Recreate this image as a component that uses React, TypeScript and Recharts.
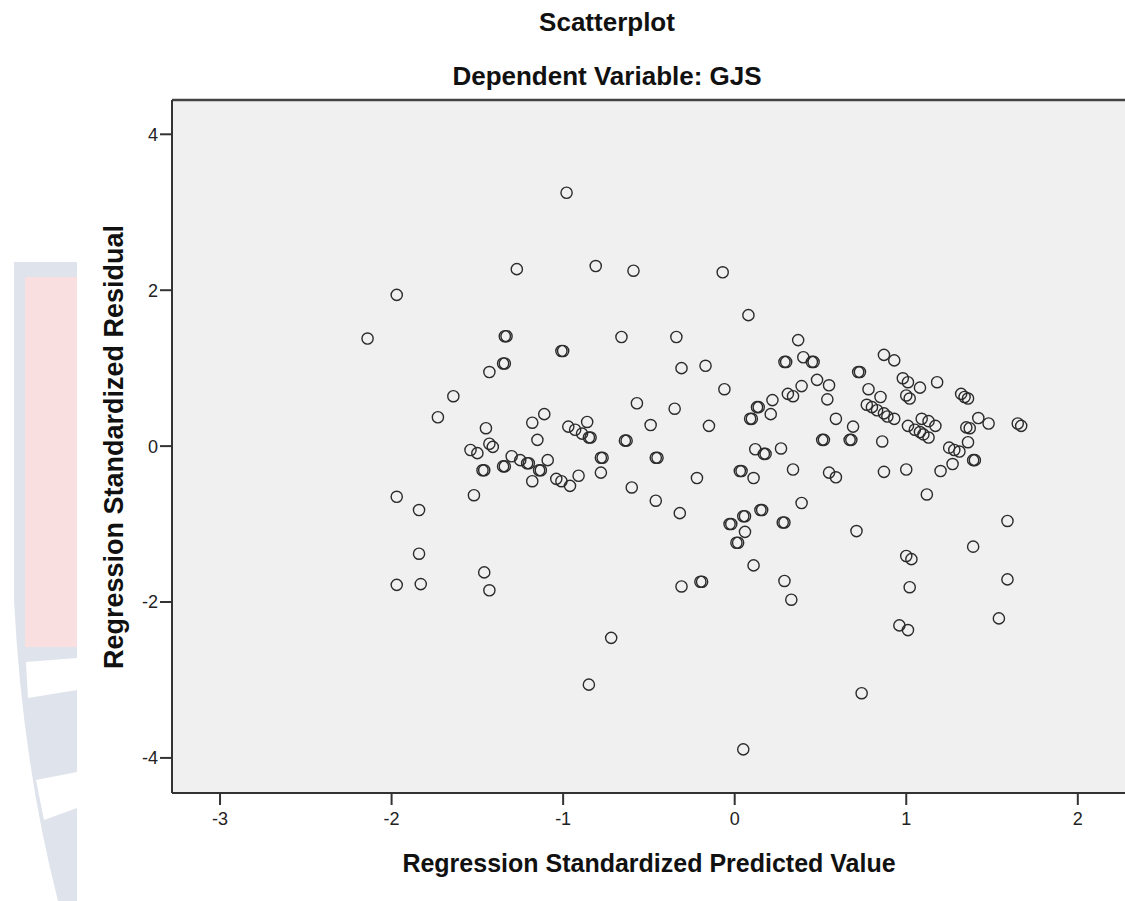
import React from 'react';
import { ScatterChart, Scatter, XAxis, YAxis, CartesianGrid, ReferenceLine } from 'recharts';

// Regression Standardized Predicted Value (x) and Regression Standardized Residual (y).
// Bold-looking circles in the original are overlapping cases, so they appear twice here.
const predicted = [
  -2.14, -1.97, -1.97, -1.97, -1.84, -1.84, -1.83, -1.73, -1.64, -1.45,
  -1.54, -1.5, -1.43, -1.41, -1.47, -1.46, -1.52, -1.35, -1.34, -1.3,
  -1.25, -1.21, -1.2, -1.14, -1.13, -1.18, -1.15, -1.18, -1.11, -1.09,
  -1.46, -1.43, -1.27, -1.34, -1.33, -1.35, -1.34, -1.43,
  -0.98, -0.81, -0.59, -0.07, 0.08, -1.01, -1.0, -0.66, -0.34, 0.37,
  -0.31, -0.17, 0.29, 0.3, 0.4, 0.45, 0.46, 0.48, 0.55, -0.06,
  0.31, 0.34, 0.39, -0.97, -0.93, -0.89, -0.86, -0.85, -0.84, -1.04,
  -1.01, -0.96, -0.91, -0.78, -0.77, -0.78, -0.64, -0.63, -0.57, -0.6,
  -0.49, -0.46, -0.45, -0.46, -0.35, -0.32, -0.15, -0.22, 0.03, 0.04,
  0.11, 0.13, 0.14, 0.09, 0.1, 0.22, 0.21, 0.54, 0.59, 0.12,
  0.17, 0.18, 0.27, 0.34, 0.51, 0.52, 0.55, 0.59, 0.39, 0.28,
  0.29, 0.15, 0.16, 0.05, 0.06, -0.03, -0.02, 0.06, 0.01, 0.02,
  0.11, 0.29, 0.33, -0.31, -0.2, -0.19, -0.72, -0.85, 0.05,
  0.87, 0.93, 0.72, 0.73, 0.98, 1.01, 1.08, 1.18, 1.32, 0.78,
  0.85, 0.77, 0.8, 0.83, 0.87, 0.89, 0.93, 0.69, 0.67, 0.68,
  0.86, 1.0, 1.02, 1.01, 1.05, 1.09, 1.13, 1.08, 1.1, 1.13,
  1.17, 1.34, 1.36, 1.42, 1.48, 1.35, 1.37, 1.36, 1.25, 1.28,
  1.31, 1.27, 1.39, 1.4, 1.2, 1.0, 0.87, 1.12, 1.65, 1.67,
  0.71, 1.59, 1.39, 1.0, 1.03, 1.02, 1.59, 1.54, 0.96, 1.01,
  0.74,
];

const residual = [
  1.38, 1.94, -0.65, -1.78, -0.82, -1.38, -1.77, 0.37, 0.64, 0.23,
  -0.05, -0.09, 0.03, -0.01, -0.31, -0.31, -0.63, -0.26, -0.26, -0.13,
  -0.18, -0.22, -0.22, -0.31, -0.31, -0.45, 0.08, 0.3, 0.41, -0.18,
  -1.62, -1.85, 2.27, 1.41, 1.41, 1.06, 1.06, 0.95,
  3.25, 2.31, 2.25, 2.23, 1.68, 1.22, 1.22, 1.4, 1.4, 1.36,
  1.0, 1.03, 1.08, 1.08, 1.14, 1.08, 1.08, 0.85, 0.78, 0.73,
  0.67, 0.64, 0.77, 0.25, 0.21, 0.16, 0.31, 0.11, 0.11, -0.42,
  -0.45, -0.51, -0.38, -0.15, -0.15, -0.34, 0.07, 0.07, 0.55, -0.53,
  0.27, -0.15, -0.15, -0.7, 0.48, -0.86, 0.26, -0.41, -0.32, -0.32,
  -0.41, 0.5, 0.5, 0.35, 0.35, 0.59, 0.41, 0.6, 0.35, -0.04,
  -0.1, -0.1, -0.03, -0.3, 0.08, 0.08, -0.34, -0.4, -0.73, -0.98,
  -0.98, -0.82, -0.82, -0.9, -0.9, -1.0, -1.0, -1.1, -1.24, -1.24,
  -1.53, -1.73, -1.97, -1.8, -1.74, -1.74, -2.46, -3.06, -3.89,
  1.17, 1.1, 0.95, 0.95, 0.87, 0.82, 0.75, 0.82, 0.67, 0.73,
  0.63, 0.53, 0.5, 0.46, 0.42, 0.38, 0.35, 0.25, 0.08, 0.08,
  0.06, 0.65, 0.61, 0.26, 0.21, 0.35, 0.32, 0.18, 0.15, 0.11,
  0.26, 0.63, 0.61, 0.36, 0.29, 0.24, 0.23, 0.05, -0.02, -0.05,
  -0.07, -0.23, -0.18, -0.18, -0.32, -0.3, -0.33, -0.62, 0.29, 0.26,
  -1.09, -0.96, -1.29, -1.41, -1.45, -1.81, -1.71, -2.21, -2.3, -2.36,
  -3.17,
];

const xTicks = [-3, -2, -1, 0, 1, 2];
const yTicks = [-4, -2, 0, 2, 4];

const points = predicted.map((x, i) => ({ x, y: residual[i] }));

const FONT = '"Liberation Sans", Arial, sans-serif';
const INK = '#2b2b2b';

const Ring = (props: any) => (
  <circle cx={props.cx} cy={props.cy} r={5.6} fill="none" stroke={INK} strokeWidth={1.4} />
);

// faint logo watermark that sits behind the left edge of the original screenshot
const Watermark = () => (
  <svg width={80} height={901} style={{ position: 'absolute', left: 0, top: 0 }}>
    <path d="M14 262 L77 262 L77 901 L58 901 Q22 760 14 600 Z" fill="#dfe3ec" />
    <rect x={25} y={277} width={52} height={370} fill="#f9dfe0" />
    <path d="M26 662 L77 658 L77 690 L28 698 Z" fill="#ffffff" />
    <path d="M36 780 L77 772 L77 808 L44 820 Z" fill="#ffffff" />
  </svg>
);

export default function App() {
  return (
    <div
      style={{
        position: 'fixed', left: 0, top: 0, width: 1125, height: 901,
        overflow: 'hidden', background: '#fff', fontFamily: FONT,
      }}
    >
      <Watermark />
      <div style={{ position: 'absolute', left: 0, top: 0 }}>
        <ScatterChart width={1200} height={901} margin={{ top: 100, right: 45, bottom: 68, left: 112 }}>
          <CartesianGrid fill="#f0f0f0" horizontal={false} vertical={false} />
          <XAxis
            type="number"
            dataKey="x"
            domain={[-3.28, 2.45]}
            ticks={xTicks}
            allowDataOverflow
            height={40}
            tickSize={12}
            tickMargin={7}
            axisLine={{ stroke: '#333', strokeWidth: 2 }}
            tickLine={{ stroke: '#333', strokeWidth: 2 }}
            tick={{ fill: '#222', fontSize: 18, fontFamily: FONT }}
          />
          <YAxis
            type="number"
            dataKey="y"
            domain={[-4.45, 4.44]}
            ticks={yTicks}
            allowDataOverflow
            width={60}
            tickSize={12}
            tickMargin={2}
            axisLine={{ stroke: '#333', strokeWidth: 2 }}
            tickLine={{ stroke: '#333', strokeWidth: 2 }}
            tick={{ fill: '#222', fontSize: 18, fontFamily: FONT }}
          />
          <ReferenceLine y={4.44} stroke="#444" strokeWidth={2.5} />
          <Scatter data={points} shape={Ring} isAnimationActive={false} />
        </ScatterChart>
      </div>
      <svg
        width={1125}
        height={901}
        style={{ position: 'absolute', left: 0, top: 0, pointerEvents: 'none' }}
        fontFamily={FONT}
        fontWeight="bold"
        fill="#111"
      >
        <text x={607} y={31} fontSize={26} textAnchor="middle">Scatterplot</text>
        <text x={607} y={85} fontSize={26} textAnchor="middle">Dependent Variable: GJS</text>
        <text x={649} y={872} fontSize={25} textAnchor="middle">Regression Standardized Predicted Value</text>
        <text x={123} y={447} fontSize={27} textAnchor="middle" transform="rotate(-90 123 447)">
          Regression Standardized Residual
        </text>
      </svg>
    </div>
  );
}
